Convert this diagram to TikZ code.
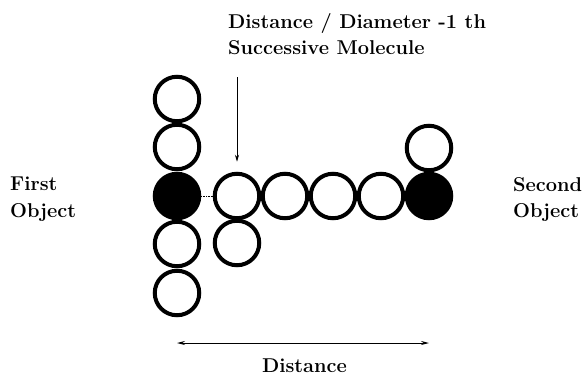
\documentclass[tikz,border=0pt]{standalone}
\usepackage{fontspec}
\usepackage{tikz}
\usetikzlibrary{arrows.meta}
\tikzset{mol/.style={circle,draw,line width=4pt,minimum size=44.5pt,inner sep=0pt},
  obj/.style={mol,fill=black},
  lbl/.style={font=\fontsize{20}{26.5}\selectfont\bfseries,align=left,inner sep=0pt}}

\begin{document}
\begin{tikzpicture}[x=1pt,y=-1pt]
\useasboundingbox(0,0)rectangle(586,375);
% first object with its column
\node[mol](l1)at(177,99){};\node[mol](l2)at(177,147){};\node[obj](first)at(177,196){};
\node[mol](l4)at(177,244){};\node[mol](l5)at(177,293){};
% chain towards the second object
\node[mol](m1)at(237,196){};\node[mol](m2)at(285,196){};\node[mol](m3)at(333,196){};\node[mol](m4)at(381,196){};
\node[mol](mb)at(237,243){};
\node[obj](second)at(429,196){};\node[mol](r1)at(429,148){};
\draw[densely dotted,line width=.6pt](first)--(m1);
% labels
\node[lbl,anchor=north west](succ)at(228,13){Distance / Diameter -1 th\\Successive Molecule};
\node[lbl,anchor=north west](fo)at(10,177){First\\Object};
\node[lbl,anchor=north west](so)at(513,177){Second\\Object};
\coordinate(atop)at(237,77);
\draw[-{Stealth[length=7pt,width=4pt]},line width=.7pt,shorten >=10pt](atop)--(m1.north);
\coordinate(dl)at(177,343);\coordinate(dr)at(429,343);
\draw[{Stealth[length=8pt,width=4pt]}-{Stealth[length=8pt,width=4pt]},line width=.9pt](dl)--(dr);
\node[lbl,anchor=base](dist)at(304.5,372){Distance};
\end{tikzpicture}
\end{document}
